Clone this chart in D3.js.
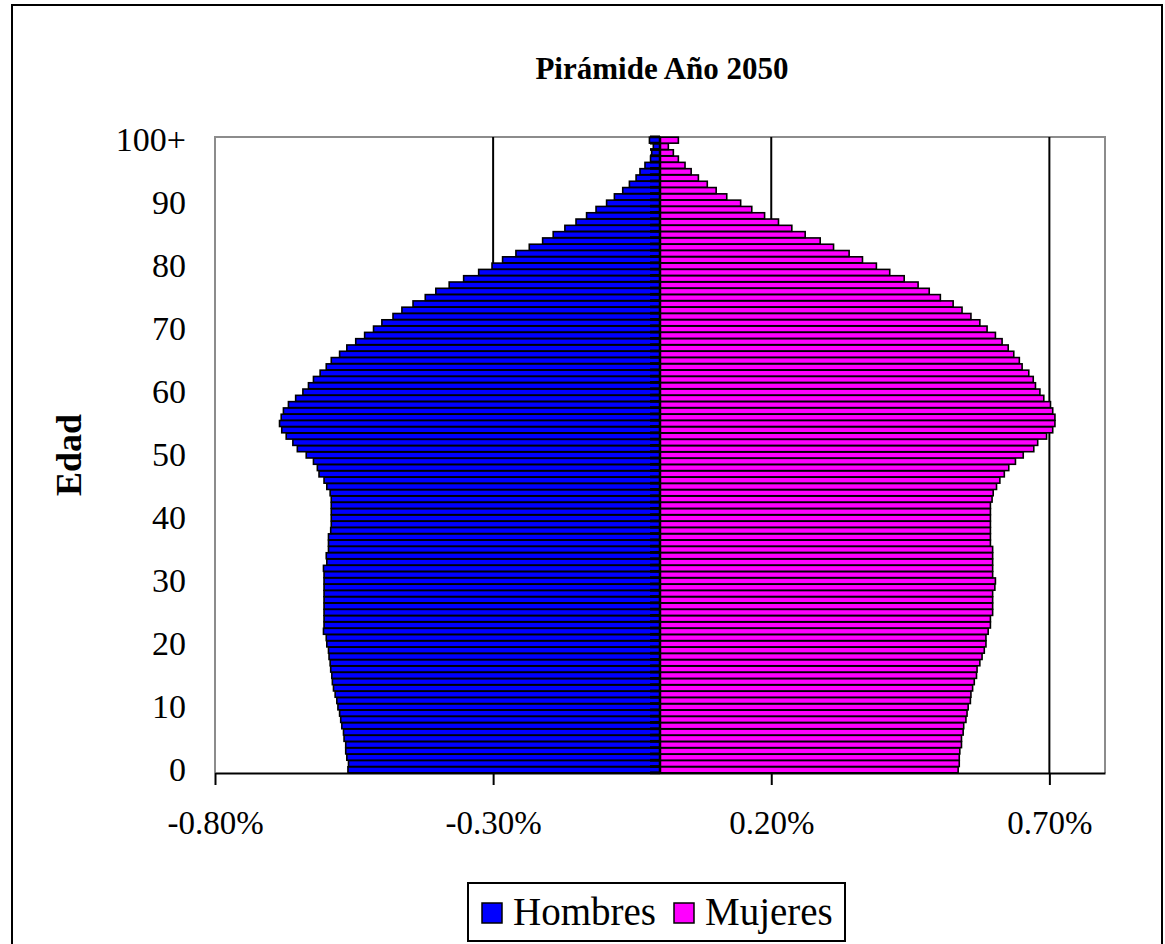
<!DOCTYPE html>
<html>
<head>
<meta charset="utf-8">
<script src="https://cdn.jsdelivr.net/npm/d3@7"></script>
<style>
  html, body { margin: 0; padding: 0; background: #fff; }
  svg { display: block; }
  text { font-family: "Liberation Serif", "Times New Roman", serif; fill: #000; }
</style>
</head>
<body>
<svg id="chart" width="1165" height="944"></svg>
<script>
// ---- data (percent of total population) ----
const ages = d3.range(0, 101);
const ageLabels = ages.map(a => a === 100 ? "100+" : String(a));
const hombres = [
  0.561,0.560,0.563,0.565,0.565,0.568,0.569,0.572,0.574,0.576,
  0.579,0.581,0.584,0.587,0.589,0.590,0.592,0.593,0.595,0.596,
  0.599,0.600,0.605,0.604,0.604,0.604,0.604,0.604,0.604,0.604,
  0.604,0.604,0.605,0.599,0.600,0.596,0.596,0.596,0.592,0.591,
  0.591,0.591,0.591,0.591,0.593,0.599,0.604,0.613,0.616,0.623,
  0.636,0.652,0.660,0.672,0.680,0.684,0.681,0.677,0.668,0.655,
  0.642,0.632,0.623,0.611,0.600,0.591,0.576,0.563,0.547,0.531,
  0.515,0.500,0.480,0.464,0.444,0.422,0.403,0.379,0.353,0.326,
  0.302,0.283,0.259,0.235,0.211,0.192,0.171,0.151,0.132,0.115,
  0.096,0.082,0.067,0.055,0.043,0.036,0.027,0.017,0.015,0.012,
  0.019
];
const mujeres = [
  0.536,0.538,0.538,0.539,0.542,0.542,0.545,0.546,0.550,0.552,
  0.554,0.558,0.559,0.562,0.565,0.569,0.570,0.575,0.579,0.583,
  0.586,0.586,0.590,0.594,0.594,0.598,0.598,0.598,0.598,0.602,
  0.603,0.598,0.598,0.598,0.598,0.598,0.594,0.594,0.594,0.594,
  0.594,0.594,0.594,0.597,0.599,0.605,0.611,0.619,0.627,0.639,
  0.653,0.672,0.679,0.695,0.706,0.710,0.710,0.706,0.702,0.690,
  0.683,0.675,0.671,0.663,0.651,0.646,0.636,0.626,0.615,0.603,
  0.588,0.575,0.559,0.543,0.527,0.504,0.484,0.464,0.439,0.413,
  0.389,0.364,0.340,0.312,0.288,0.261,0.237,0.213,0.188,0.165,
  0.145,0.120,0.101,0.085,0.069,0.056,0.045,0.033,0.024,0.015,
  0.033
];
const xTicks = [-0.8, -0.3, 0.2, 0.7];
const yTicks = [0, 10, 20, 30, 40, 50, 60, 70, 80, 90, 100];
const seriesNames = ["Hombres", "Mujeres"];
const seriesColors = ["#0000FF", "#FF00FF"];
const titleText = "Pirámide Año 2050";
const yTitle = "Edad";

// ---- layout ----
const svg = d3.select("#chart");
const plot = { left: 215, right: 1105, top: 137, bottom: 773 };

const x = d3.scaleLinear().domain([-0.8, 0.8]).range([plot.left, plot.right]);
const y = d3.scaleBand().domain(ages).range([plot.bottom, plot.top]).paddingInner(0.05).paddingOuter(0.03);

// outer frame
svg.append("rect").attr("x", 12).attr("y", 5).attr("width", 1150).attr("height", 950)
  .attr("fill", "#fff").attr("stroke", "#000").attr("stroke-width", 2);

// title
svg.append("text").attr("x", 662).attr("y", 79).attr("text-anchor", "middle")
  .attr("font-size", 31).attr("font-weight", "bold").text(titleText);

// plot border (grey)
svg.append("path")
  .attr("d", `M${plot.left},${plot.bottom}V${plot.top}H${plot.right}V${plot.bottom}`)
  .attr("fill", "none").attr("stroke", "#8c8c8c").attr("stroke-width", 2);

// gridlines
svg.append("g").selectAll("line").data(xTicks.filter(t => t > -0.8)).join("line")
  .attr("x1", d => x(d)).attr("x2", d => x(d))
  .attr("y1", plot.top).attr("y2", plot.bottom)
  .attr("stroke", "#000").attr("stroke-width", 2);

// bars
const bw = y.bandwidth();
svg.append("g").selectAll("rect").data(ages).join("rect")
  .attr("x", d => x(-hombres[d])).attr("y", d => y(d))
  .attr("width", d => x(0) - x(-hombres[d])).attr("height", bw)
  .attr("fill", seriesColors[0]).attr("stroke", "#000").attr("stroke-width", 1.6);
svg.append("g").selectAll("rect").data(ages).join("rect")
  .attr("x", x(0)).attr("y", d => y(d))
  .attr("width", d => x(mujeres[d]) - x(0)).attr("height", bw)
  .attr("fill", seriesColors[1]).attr("stroke", "#000").attr("stroke-width", 1.6);

// category axis at zero with tick marks at band boundaries
const step = y.step();
svg.append("g").selectAll("line").data(ages.concat([101])).join("line")
  .attr("x1", x(0) - 10).attr("x2", x(0))
  .attr("y1", d => plot.bottom - step * 0.03 - d * step)
  .attr("y2", d => plot.bottom - step * 0.03 - d * step)
  .attr("stroke", "#000").attr("stroke-width", 2.8);
svg.append("line").attr("x1", x(0)).attr("x2", x(0))
  .attr("y1", plot.top).attr("y2", plot.bottom)
  .attr("stroke", "#000").attr("stroke-width", 2.5);

// x axis
const xAxis = d3.axisBottom(x).tickValues(xTicks).tickSize(12).tickSizeOuter(0).tickPadding(26)
  .tickFormat(d => d.toFixed(2) + "%");
const gx = svg.append("g").attr("transform", `translate(0,${plot.bottom})`).call(xAxis);
gx.select(".domain").attr("stroke", "#000").attr("stroke-width", 2);
gx.selectAll(".tick line").attr("stroke", "#000").attr("stroke-width", 2);
gx.selectAll(".tick text").attr("font-size", 33).attr("font-family", "Liberation Serif, serif").attr("fill", "#000");

// y axis labels
const yAxis = d3.axisLeft(y).tickValues(yTicks).tickSize(0).tickPadding(14)
  .tickFormat(d => ageLabels[d]);
const gy = svg.append("g").attr("transform", `translate(${plot.left - 15},0)`).call(yAxis);
gy.select(".domain").remove();
gy.selectAll(".tick text").attr("font-size", 34).attr("font-family", "Liberation Serif, serif").attr("fill", "#000");

// y title
svg.append("text").attr("transform", "translate(81,455) rotate(-90)")
  .attr("text-anchor", "middle").attr("font-size", 36).attr("font-weight", "bold").text(yTitle);

// legend
const lg = svg.append("g");
lg.append("rect").attr("x", 468).attr("y", 883).attr("width", 377).attr("height", 58)
  .attr("fill", "#fff").attr("stroke", "#000").attr("stroke-width", 2);
const legendX = [482, 674];
seriesNames.forEach((n, i) => {
  lg.append("rect").attr("x", legendX[i]).attr("y", 903).attr("width", 20).attr("height", 20)
    .attr("fill", seriesColors[i]).attr("stroke", "#000").attr("stroke-width", 1.5);
  lg.append("text").attr("x", legendX[i] + 31).attr("y", 925).attr("font-size", 39).text(n);
});
</script>
</body>
</html>
